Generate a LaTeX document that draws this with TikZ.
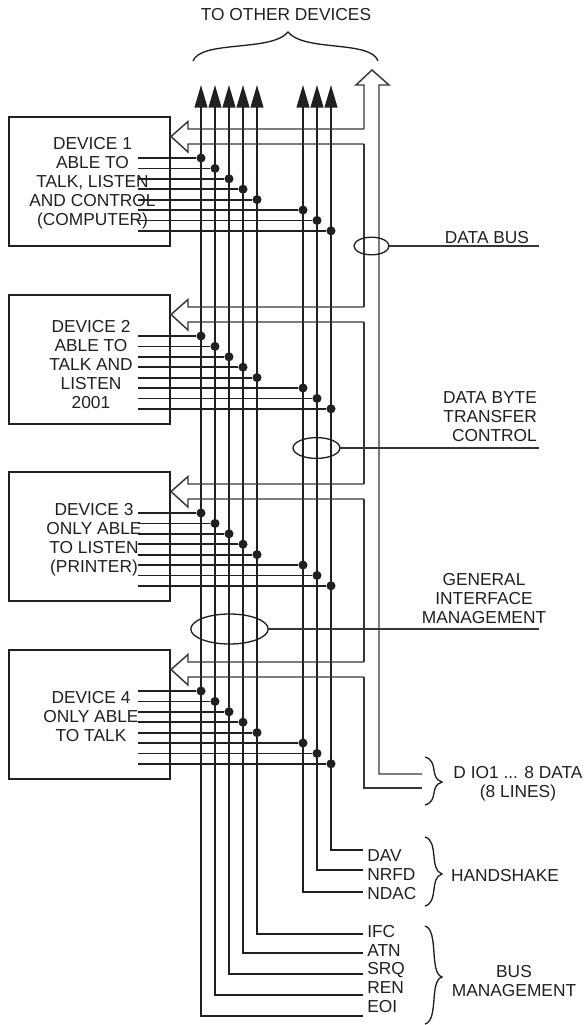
\documentclass[tikz,border=0pt]{standalone}
\usepackage{xcolor}
\usepackage{fontspec}
\setmainfont{Liberation Sans}
\usepackage{tikz}
\usetikzlibrary{arrows.meta,shapes.geometric}

\definecolor{inkdark}{HTML}{231F20}
\tikzset{
  lbl/.style={inner sep=0pt,text=inkdark,font=\fontsize{13}{14.25}\selectfont},
  devbox/.style={draw=inkdark,line width=1.1pt,anchor=north west,minimum width=120.75pt,minimum height=96.75pt,inner sep=0pt,outer sep=0pt},
  sigline/.style={draw=inkdark,line width=1.35pt},
  sigdot/.style={circle,fill=inkdark,minimum size=6.8pt,inner sep=0pt},
  busline/.style={draw=inkdark!90,line width=1.1pt,miter limit=20},
  busring/.style={ellipse,draw=inkdark,line width=1pt,inner sep=0pt,outer sep=0pt},
  curly/.style={draw=inkdark,line width=1pt}
}

\begin{document}
\begin{tikzpicture}[x=0.75pt,y=-0.75pt]
\useasboundingbox (0,0) rectangle (583,1025);

% devices
\node[devbox] (dev1) at (9,117) {};
\node[devbox] (dev2) at (9,295) {};
\node[devbox] (dev3) at (9,472) {};
\node[devbox] (dev4) at (9,650) {};
\node[lbl,align=center] (dev1txt) at (92.5,183.5) {DEVICE 1\\ABLE TO\\TALK, LISTEN\\AND CONTROL\\(COMPUTER)};
\node[lbl,align=center] (dev2txt) at (91,364.5) {DEVICE 2\\ABLE TO\\TALK AND\\LISTEN\\2001};
\node[lbl,align=center] (dev3txt) at (94,540) {DEVICE 3\\ONLY ABLE\\TO LISTEN\\(PRINTER)};
\node[lbl,align=center] (dev4txt) at (91,716.5) {DEVICE 4\\ONLY ABLE\\TO TALK};

% signal lines
\foreach \s/\x/\yend in {1/201/1016,2/215/995,3/229/974,4/243/953,5/257/934,6/303/892,7/317/870,8/331/850} {
  \coordinate (sigtop\s) at (\x,85);
  \coordinate (sigbend\s) at (\x,\yend);
  \coordinate (sigend\s) at (363,\yend);
  \draw[sigline,-{Triangle[length=17pt,width=9.6pt]}] (sigend\s) -- (sigbend\s) -- (sigtop\s);
  \foreach \n/\t in {1/117,2/295,3/472,4/650} {
    \coordinate (stub\n s\s) at (138,\t+41+10.4*\s-10.4);
    \node[sigdot] (dot\n s\s) at (\x,\t+41+10.4*\s-10.4) {};
    \draw[sigline] (stub\n s\s) -- (dot\n s\s);
  }
}

% hollow bus
\foreach \n/\t in {1/117,2/295,3/472,4/650} {
  \coordinate (busa\n) at (364,\t+12);
  \coordinate (neck\n a) at (188,\t+12);
  \coordinate (wing\n a) at (188,\t+4.5);
  \coordinate (tip\n) at (171,\t+19.5);
  \coordinate (wing\n b) at (188,\t+35);
  \coordinate (neck\n b) at (188,\t+27);
  \coordinate (busb\n) at (364,\t+27);
  \draw[busline] (busa\n) -- (neck\n a) -- (wing\n a) -- (tip\n) -- (wing\n b) -- (neck\n b) -- (busb\n);
}
\draw[busline] (busb1) -- (busa2);
\draw[busline] (busb2) -- (busa3);
\draw[busline] (busb3) -- (busa4);
\coordinate (upl) at (364,85);
\coordinate (upwl) at (356,85);
\coordinate (uptip) at (372,70);
\coordinate (upwr) at (389,85);
\coordinate (upr) at (379,85);
\coordinate (busrb) at (379,774);
\coordinate (busre) at (422,774);
\coordinate (buslb) at (364,788);
\coordinate (busle) at (422,788);
\draw[busline] (busa1) -- (upl) -- (upwl) -- (uptip) -- (upwr) -- (upr) -- (busrb) -- (busre);
\draw[busline] (busb4) -- (buslb) -- (busle);

% groups
\node[busring,minimum width=26.3pt,minimum height=13.2pt] (ringbus) at (371.5,246) {};
\node[busring,minimum width=35.2pt,minimum height=15.6pt] (ringbyte) at (316.5,448) {};
\node[busring,minimum width=58pt,minimum height=22.5pt] (ringgen) at (229.5,629) {};
\coordinate (ringbusend) at (539,246);
\coordinate (ringbyteend) at (539,448);
\coordinate (ringgenend) at (539,629);
\draw[busline] (ringbus.east) -- (ringbusend);
\draw[busline] (ringbyte.east) -- (ringbyteend);
\draw[busline] (ringgen.east) -- (ringgenend);
\node[lbl] (busname) at (487,238) {DATA BUS};
\node[lbl,align=right] (bytename) at (490,417) {DATA BYTE\\TRANSFER\\CONTROL};
\node[lbl,align=center] (genname) at (484,599) {GENERAL\\INTERFACE\\MANAGEMENT};

% braces
\draw[curly] (193,61) .. controls (201,40) and (272,52) .. (288,32) .. controls (304,52) and (371,40) .. (378,61);
\foreach \a/\p/\b in {757/782/805,837/874/906,926/977/1024} {
  \draw[curly] (425,\a) .. controls (439,\a+4) and (429,\p-4) .. (442,\p) .. controls (429,\p+4) and (439,\b-4) .. (425,\b);
}

% bottom labels
\node[lbl] (others) at (286,14.5) {TO OTHER DEVICES};
\foreach \nm/\y in {DAV/856,NRFD/875,NDAC/894,IFC/932,ATN/951,SRQ/970,REN/988,EOI/1007} {
  \node[lbl,anchor=west] (lab\nm) at (367,\y) {\nm};
}
\node[lbl,align=center] (dataname) at (518,783.5) {D IO1 ... 8 DATA\\(8 LINES)};
\node[lbl] (handname) at (505,876) {HANDSHAKE};
\node[lbl,align=center] (mgmtname) at (514,981.5) {BUS\\MANAGEMENT};
\end{tikzpicture}
\end{document}
